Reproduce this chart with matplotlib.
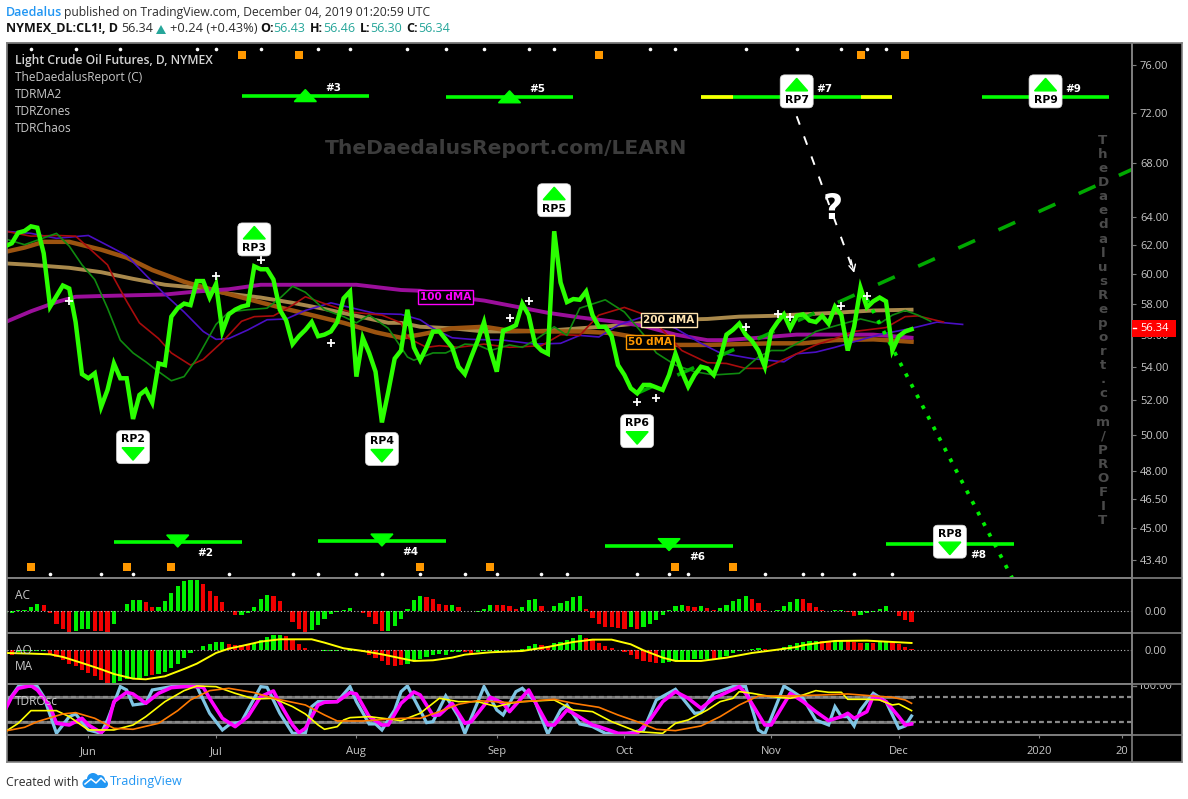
import matplotlib
matplotlib.use('Agg')
import matplotlib.pyplot as plt
from matplotlib.patches import FancyBboxPatch, Polygon, Rectangle, Circle
from matplotlib.lines import Line2D
from matplotlib.transforms import IdentityTransform, Bbox

W, H = 1188, 799

# x is the bar number, bar 0 is the first bar in the window
close = [61.9,62.1,62.85,62.97,63.3,63.2,61.4,57.8,58.5,59.2,59.0,56.8,53.55,53.3,53.6,51.6,52.6,54.2,53.3,53.3,
         50.9,52.3,52.6,51.85,54.2,54.1,57.15,57.7,58.0,57.9,59.5,59.5,58.4,59.3,56.2,57.3,57.6,57.8,57.9,60.5,
         60.3,60.3,59.6,57.6,56.9,55.4,55.9,56.3,56.8,55.9,56.0,56.2,56.8,58.35,58.8,53.4,55.8,54.85,53.7,50.7,
         52.5,54.5,55.0,57.6,55.2,54.4,55.2,56.2,56.2,55.7,55.2,54.0,53.55,54.6,55.6,56.8,55.0,53.7,56.25,56.4,
         56.6,58.0,57.25,55.4,55.0,54.8,62.95,59.4,58.1,58.3,58.25,58.8,57.25,56.5,56.5,55.9,54.1,53.5,52.7,52.4,
         52.9,52.9,52.75,52.6,53.5,54.8,53.7,52.8,53.5,54.0,53.9,53.5,54.5,56.0,56.3,56.7,56.0,55.6,55.0,54.0,
         56.2,56.8,57.3,56.4,57.2,57.3,56.9,56.8,57.2,56.7,57.8,57.25,55.0,56.5,59.05,57.75,58.15,58.4,58.15,55.0,
         55.9,56.2,56.34]

ma100_x = [0,4,8,11,15,20,25,30,35,40,50,55,60,62,65,70,75,80,85,90,95,100,105,110,113,118,124,130,136,142]
ma100_y = [56.8,57.5,58.1,58.45,58.5,58.55,58.6,58.8,58.95,59.25,59.25,59.25,59.0,58.9,58.85,58.45,58.2,57.8,57.4,
           57.1,56.85,56.55,56.0,55.65,55.65,55.8,56.0,56.0,56.0,55.8]
ma200_x = [0,4,10,15,20,25,30,35,40,45,50,55,60,62,65,70,75,80,85,90,95,100,105,110,115,120,125,130,136,142]
ma200_y = [60.7,60.6,60.4,60.1,59.65,59.25,59.05,58.65,58.4,58.05,57.65,57.2,56.75,56.75,56.5,56.4,56.2,56.2,56.25,
           56.4,56.55,56.75,56.95,57.0,57.15,57.2,57.3,57.4,57.55,57.6]
ma50_x = [0,3,6,10,15,19,23,28,33,38,43,48,53,58,62,65,70,75,79,85,90,95,100,105,110,115,120,125,130,136,142]
ma50_y = [61.5,61.8,62.2,62.2,61.65,61.1,60.25,59.45,58.85,58.3,57.75,57.25,56.75,56.15,55.8,56.0,56.4,56.5,56.25,
          56.2,56.2,56.1,55.75,55.35,55.35,55.4,55.45,55.45,55.65,55.7,55.55]

blue_x = [0,4,8,13,16,19,22,25,28,31,33,35,38,41,44,47,51,54,58,62,65,67,70,73,78,83,87,90,93,96,100,105,109,112,
          117,122,124,127,130,133,137,142,146,150]
blue_y = [62.95,62.8,62.45,62.65,61.95,61.25,59.9,58.6,57.45,56.2,55.7,55.75,56.3,56.95,57.0,57.55,58.05,57.75,57.35,
          57.3,56.95,56.4,55.8,55.7,55.65,55.4,55.45,55.95,55.85,56.6,57.15,56.4,55.45,54.85,54.5,54.3,54.8,54.9,
          55.2,55.55,56.0,56.4,56.8,56.65]
red_x = [0,4,8,11,13,16,17,19,21,24,26,29,31,34,37,39,42,45,47,50,54,59,62,63,66,68,71,75,79,84,87,90,93,97,101,106,
         110,113,116,119,122,124,127,130,133,138,141,143,147]
red_y = [62.95,62.6,62.65,62.6,61.8,60.6,59.7,58.15,56.75,55.75,54.85,54.1,54.45,55.55,56.85,57.15,57.2,57.9,58.45,
         58.0,57.45,57.25,56.75,55.8,55.2,55.3,55.2,55.4,55.2,55.3,56.0,55.95,57.25,57.75,57.15,55.0,54.25,54.2,53.9,
         53.9,54.45,54.8,55.35,55.75,56.2,56.45,57.15,57.2,56.8]
dgreen_x = [0,3,8,10,12,14,16,18,20,22,24,26,28,30,33,35,38,41,43,45,47,50,53,55,57,60,62,63,64,67,69,72,74,76,79,81,
            83,86,88,90,94,97,100,102,105,108,111,115,118,120,122,125,127,130,134,137,139,141,143,145]
dgreen_y = [62.4,62.0,62.8,61.9,60.6,59.6,57.7,55.65,54.85,54.3,53.7,53.15,53.4,54.5,56.65,57.45,57.6,57.7,58.35,59.15,
            58.75,57.6,57.15,56.75,57.25,56.4,55.2,54.6,54.4,54.85,54.85,55.4,55.35,55.0,55.35,55.2,55.65,56.5,55.95,
            57.7,58.25,57.45,56.0,54.85,54.1,53.7,53.5,53.6,54.6,55.0,55.0,55.65,56.2,56.55,57.0,56.7,57.25,57.55,57.25,
            56.85]

trend_x = [99, 176.5]
trend_y = [52.4, 67.5]
fall_x = [135, 157.8]
fall_y = [58.3, 42.5]
arrow_x = [124, 133]
arrow_y = [71.7, 60.05]

plus_x = [10,33,40,51,79,82,99,102,116,121,123,131,135]
plus_y = [58.15,59.85,60.95,55.5,57.05,58.15,51.9,52.1,56.5,57.35,57.15,57.85,58.5]

top_dots = [4,11,18,30,33,40,49,54,63,69,75,82,86,101,105,116,124,131,135,138]
top_squares = [37,46,93,134,141]
bottom_dots = [7,15,20,35,45,49,55,59,65,72,77,84,88,99,104,107,119,125,128,133,139]
bottom_squares = [4,19,26,65,76,105,114]

# name, bar, price, up or down
callouts = [('RP2',20,49.3,'down'),('RP3',39,62.37,'up'),('RP4',59,49.2,'down'),('RP5',86,65.2,'up'),
            ('RP6',99,50.2,'down'),('RP7',124,73.75,'up'),('RP8',148,44.3,'down'),('RP9',163,73.75,'up')]
# label, start, end, middle, price, up or down, has a small triangle
zones = [('#2',17,37,27,44.28,'down',True),('#3',37,57,47,73.4,'up',True),('#4',49,69,59,44.33,'down',True),
         ('#5',69,89,79,73.3,'up',True),('#6',94,114,104,44.1,'down',True),('#7',109,139,124,73.25,'up',False),
         ('#8',138,158,148,44.2,'down',False),('#9',153,173,163,73.25,'up',False)]
yellow_parts = [(109,114),(134,139)]

price_ticks = [76,72,68,64,62,60,58,56,54,52,50,48,46.5,45,43.4]
price_labels = ['76.00','72.00','68.00','64.00','62.00','60.00','58.00','56.00','54.00','52.00','50.00','48.00',
                '46.50','45.00','43.40']
time_ticks = [13,33,55,77,97,120,140,162,175]
time_labels = ['Jun','Jul','Aug','Sep','Oct','Nov','Dec','2020','20']

ac_vals = [-6,-6,2,2,10,20,17,-8,-40,-55,-65,-60,-55,-55,-60,-62,-65,-40,-2,20,32,32,25,12,12,30,52,75,88,92,92,80,58,
           45,26,0,-12,-12,-8,10,35,47,43,30,0,-33,-55,-65,-58,-42,-25,-10,-5,2,8,0,-8,-20,-40,-62,-60,-45,
           -25,6,32,45,42,36,21,18,18,12,0,-2,-3,5,18,18,18,15,5,12,33,36,15,0,15,24,30,42,45,5,-22,-40,-50,-50,-52,
           -55,-48,-55,-50,-40,-28,-12,2,15,18,15,12,15,9,2,8,18,30,36,45,36,24,2,-1,2,15,
           25,36,36,24,12,2,0,1,1,-5,-15,-13,-6,-3,5,14,0,-15,-28,-35]
ac_red = [6,7,8,9,10,14,15,16,22,23,31,32,33,34,36,42,43,45,46,47,56,57,58,59,66,67,68,69,71,73,77,78,79,80,84,
          91,92,93,94,95,96,97,99,107,108,110,111,117,118,119,120,125,126,127,128,132,133,140,141,142]

ao_vals = [-6,-15,-4,-3,-3,-3,-3,-13,-20,-30,-42,-48,-58,-67,-78,-90,-100,-100,-93,-85,-85,-82,-77,-75,-72,-65,-52,-40,
           -22,-8,2,12,20,26,25,18,16,16,16,22,30,40,46,47,42,32,20,8,2,0,-1,-1,-1,0,-1,-1,-4,-13,-22,-32,-43,-47,
           -45,-40,-32,-25,-20,-15,-12,-13,-5,-5,-5,-13,-5,-3,-3,-1,1,1,2,5,13,18,16,14,22,25,32,38,46,38,30,22,14,8,0,
           -6,-15,-27,-33,-36,-38,-38,-35,-30,-30,-28,-26,-26,-26,-25,-22,-18,-8,-2,2,4,7,4,2,3,10,
           15,22,26,28,28,28,27,28,30,27,24,21,21,22,24,27,24,18,11,3]
ao_red = [0,1,7,8,9,10,11,12,13,14,15,16,23,35,36,37,38,44,45,46,47,48,56,57,58,59,60,61,62,72,73,80,84,85,91,92,93,94,
          95,97,98,99,100,101,102,111,119,120,128,129,132,133,134,136,139,140,141,142]
ao_ma_x = [0,4,7,9,12,15,17,20,22,25,28,30,33,35,37,40,43,48,50,53,56,59,62,64,67,70,72,76,81,85,89,92,95,98,100,103,105,
           109,113,117,121,124,125,128,130,135,138,141,142]
ao_ma_y = [-8,-10,-12,-20,-38,-57,-71,-85,-87,-78,-56,-40,-8,5,13,26,33,33,23,6,-2,-12,-24,-32,-30,-22,-13,-6,-2,10,25,32,
           32,18,0,-22,-32,-32,-22,-8,2,10,15,24,28,29,26,23,22]

osc_levels = [114, 39]
sky_x = [0,2,3,5,6,8,10,11,13,15,16,18,19,20,22,23,26,30,32,34,35,37,40,41,43,45,47,48,49,52,54,55,57,58,59,61,62,63,64,
         66,67,69,71,72,75,77,78,80,81,83,85,87,88,90,92,94,97,100,102,105,108,109,111,114,116,118,119,122,123,125,127,
         129,130,131,132,133,134,136,138,140,141,142]
sky_y = [91,146,148,146,116,6,56,64,16,6,46,146,136,91,96,136,146,146,66,16,31,41,146,144,66,6,6,86,101,101,146,101,34,34,
         16,76,131,148,111,38,41,118,56,6,146,76,61,131,141,101,4,76,91,34,26,6,4,16,106,138,66,68,126,146,146,16,4,148,
         136,111,46,31,86,56,56,28,76,126,101,21,28,58]
pink_x = [0,1,2,4,5,7,8,10,12,13,15,16,17,19,20,22,24,26,29,31,32,34,36,38,40,42,43,45,46,47,49,50,52,54,55,57,59,60,62,
          64,65,67,68,70,72,73,76,78,79,82,84,85,86,88,89,92,93,96,99,101,103,105,107,109,111,115,116,119,120,123,125,
          127,129,131,132,133,135,136,138,140,141,142]
pink_y = [78,116,141,149,136,86,36,31,51,31,8,26,101,129,124,96,126,143,148,144,111,51,26,56,116,133,96,31,8,21,91,99,101,
          128,124,56,31,31,96,130,121,60,61,96,36,41,114,96,71,136,66,31,31,76,66,31,26,6,6,46,101,131,111,81,111,146,126,
          31,31,126,101,71,44,56,66,51,71,118,101,56,31,34]
gold_x = [0,2,4,8,10,13,17,20,22,25,28,30,33,36,39,42,45,47,49,50,52,53,54,57,60,62,65,67,68,71,74,77,79,81,84,86,89,92,95,
          97,99,103,105,107,110,112,114,115,117,120,123,125,127,129,131,132,135,137,139,140,142]
gold_y = [11,36,74,74,56,16,16,31,56,101,134,148,146,126,109,111,86,64,31,18,26,46,53,56,49,44,66,96,111,101,101,86,96,101,
          104,106,76,71,41,26,11,6,36,46,76,101,111,131,126,116,111,121,134,129,129,108,108,106,91,94,74]
orange_x = [0,3,5,9,11,14,17,20,24,27,29,32,35,39,42,47,50,52,56,62,65,68,71,74,79,86,89,93,96,99,102,105,109,112,115,118,
            123,128,132,136,139,141,142]
orange_y = [13,24,41,64,68,51,21,18,36,74,106,134,141,128,111,91,61,43,43,51,51,71,93,104,98,108,96,84,61,41,18,14,28,56,
            91,118,118,121,124,118,114,106,96]

BAR_GREEN = '#00f000'
BAR_RED = '#f00000'
GRID = '#808080'
TXT = '#c8c8c8'
TV_BLUE = '#2196f3'
TEAL = '#26a69a'
LIME = '#2bff00'
ZONE = '#00ff00'

fig = plt.figure(figsize=(W / 100, H / 100), dpi=100, facecolor='white')


def pane(left, top, right, bottom):
    ax = fig.add_axes([left / W, 1 - bottom / H, (right - left) / W, (bottom - top) / H], facecolor='black')
    for s in ax.spines.values():
        s.set_color(GRID)
        s.set_linewidth(1.2)
    ax.set_xlim(0.2, 176.5)
    return ax


def ftext(x, y, s, **kw):
    kw.setdefault('va', 'center')
    kw.setdefault('family', 'Open Sans')
    return fig.text(x / W, 1 - y / H, s, **kw)


back = pane(6.7, 43, 1181.7, 762)
back.set_xticks([])
back.set_yticks([])

ax = pane(6.7, 43, 1131.7, 578.3)
ax_ac = pane(6.7, 578.3, 1131.7, 633.3)
ax_ao = pane(6.7, 633.3, 1131.7, 684.3)
ax_osc = pane(6.7, 684.3, 1131.7, 735.3)

# main pane
ax.set_yscale('log')
ax.set_ylim(42.5, 77.9)
ax.plot(ma200_x, ma200_y, color='#a9894c', lw=2.8)
ax.plot(ma50_x, ma50_y, color='#9c5410', lw=3.2)
ax.plot(ma100_x, ma100_y, color='#9b0f9b', lw=2.8)
ax.plot(blue_x, blue_y, color='#4a0fc4', lw=1.2)
ax.plot(red_x, red_y, color='#a80c0c', lw=1.2)
ax.plot(dgreen_x, dgreen_y, color='#0f8a0f', lw=1.2)
ax.plot(trend_x, trend_y, color='#00a800', lw=2.6, linestyle=(0, (5.1, 7.1)))
ax.plot(fall_x, fall_y, color='#00ee00', lw=2.7, linestyle=(0, (1, 2.2)))
ax.plot(range(len(close)), close, color=LIME, lw=3.2, solid_joinstyle='miter', zorder=4)
ax.plot(plus_x, plus_y, '+', color='white', ms=5.2, mew=1.3, zorder=5)

ax.plot(arrow_x, arrow_y, color='white', lw=1.4, linestyle=(0, (4.6, 6.4)), zorder=5)
ax.annotate('', xy=(arrow_x[1], arrow_y[1]), xytext=(arrow_x[1] - 0.5, arrow_y[1] + 0.9),
            arrowprops=dict(arrowstyle='->', color='white', lw=1.0, mutation_scale=12, shrinkA=0, shrinkB=0), zorder=5)
ax.text(129.7, 64.56, '?', color='white', fontsize=25, fontweight='bold', ha='center', va='center', zorder=5)

ax.plot(top_dots, [77.36] * len(top_dots), 'o', color='white', ms=2.6, mew=0)
ax.plot(top_squares, [76.87] * len(top_squares), 's', color='#ff9800', ms=6.2, mew=0)
ax.plot(bottom_dots, [42.73] * len(bottom_dots), 'o', color='white', ms=2.6, mew=0)
ax.plot(bottom_squares, [43.05] * len(bottom_squares), 's', color='#ff9800', ms=6.2, mew=0)

ax.set_yticks(price_ticks, price_labels)
ax.minorticks_off()
ax.set_xticks([])
ax.tick_params(axis='y', left=False, labelleft=False, right=True, labelright=True, color=GRID, length=3,
               labelcolor=TXT, labelsize=8, pad=3)
for lab in ax.get_yticklabels():
    lab.set_family('Open Sans')

fig.canvas.draw()
ident = IdentityTransform()


def px(n, p):
    return ax.transData.transform((n, p))


def tri(cx, cy_top, w, h, up, color=ZONE, z=7):
    if up:
        pts = [(cx - w / 2, cy_top), (cx + w / 2, cy_top), (cx, cy_top + h)]
    else:
        pts = [(cx - w / 2, cy_top + h), (cx + w / 2, cy_top + h), (cx, cy_top)]
    ax.add_patch(Polygon(pts, closed=True, color=color, transform=ident, zorder=z, clip_on=False))


# resistance / support zones
for label, a, b, mid, price, way, small in zones:
    ax.plot([a, b], [price, price], color=ZONE, lw=2.6, solid_capstyle='butt', zorder=6)
    cx, cy = px(mid, price)
    if small:
        if way == 'up':
            tri(cx, cy - 6, 22, 12, True)
        else:
            tri(cx, cy - 5, 22, 12, False)
    off = 8 if way == 'up' else -11
    ax.text(cx + 28, cy + off, label, color='white', fontsize=7.5, fontweight='bold', ha='center', va='center',
            transform=ident, zorder=8)
for a, b in yellow_parts:
    ax.plot([a, b], [73.25, 73.25], color='#ffff00', lw=2.6, solid_capstyle='butt', zorder=6.5)

# RP callouts
for name, bar, price, way in callouts:
    cx, cy = px(bar, price)
    ax.add_patch(FancyBboxPatch((cx - 13, cy - 13), 26, 26, boxstyle='round,pad=3.5,rounding_size=4.5', fc='white',
                                ec='#d8d8d8', lw=0.5, transform=ident, zorder=9))
    if way == 'up':
        tri(cx, cy + 0.5, 22, 12.5, True, z=10)
        ax.text(cx, cy - 8.5, name, color='black', fontsize=7.8, fontweight='bold', ha='center', va='center',
                transform=ident, zorder=10)
    else:
        tri(cx, cy - 13, 22, 12.5, False, z=10)
        ax.text(cx, cy + 8, name, color='black', fontsize=7.8, fontweight='bold', ha='center', va='center',
                transform=ident, zorder=10)

# labels on the moving averages
for txt, bar, price, col in [('100 dMA', 69, 58.44, '#ff00ff'), ('200 dMA', 104, 56.94, '#ffe4b0'),
                             ('50 dMA', 101, 55.54, '#ff9800')]:
    ax.text(bar, price, txt, color=col, fontsize=7.5, fontweight='bold', ha='center', va='center', zorder=7,
            bbox=dict(boxstyle='square,pad=0.2', fc='black', ec=col, lw=1))

# AC
ac_cols = [BAR_RED if i in ac_red else BAR_GREEN for i in range(len(ac_vals))]
ax_ac.bar(range(len(ac_vals)), ac_vals, width=0.66, color=ac_cols)
ax_ac.axhline(0, color='#c0c0c0', lw=0.8, linestyle=(0, (1, 2)), zorder=3)
ax_ac.set_ylim(-68, 97)
ax_ac.set_xticks([])
ax_ac.set_yticks([0], ['0.00'])

# AO
ao_cols = [BAR_RED if i in ao_red else BAR_GREEN for i in range(len(ao_vals))]
ax_ao.bar(range(len(ao_vals)), ao_vals, width=0.66, color=ao_cols)
ax_ao.axhline(0, color='#c0c0c0', lw=0.8, linestyle=(0, (1, 2)), zorder=3)
ax_ao.plot(ao_ma_x, ao_ma_y, color='#ffff00', lw=1.4, zorder=4)
ax_ao.set_ylim(-102, 51)
ax_ao.set_xticks([])
ax_ao.set_yticks([0], ['0.00'])

for a in (ax_ac, ax_ao):
    a.tick_params(axis='y', left=False, labelleft=False, right=False, labelright=True, labelcolor=TXT, labelsize=8,
                  pad=6)
    for lab in a.get_yticklabels():
        lab.set_family('Open Sans')

# oscillator
ax_osc.set_ylim(0, 153)
for lev in osc_levels:
    ax_osc.plot([0.2, 142], [lev, lev], color='#707070', lw=2.2, zorder=1)
    ax_osc.plot([0.2, 176.5], [lev, lev], color='#8a8a8a', lw=1.6, linestyle=(0, (2.2, 1.4)), zorder=1.5)
ax_osc.plot(sky_x, sky_y, color='#7ec4e4', lw=2.3, zorder=2, solid_joinstyle='miter')
ax_osc.plot(pink_x, pink_y, color='#ff00ff', lw=2.6, zorder=3)
ax_osc.plot(gold_x, gold_y, color='#ffff00', lw=1.2, zorder=4)
ax_osc.plot(orange_x, orange_y, color='#ff7a00', lw=1.2, zorder=5)
ax_osc.set_yticks([])
ax_osc.set_xticks(time_ticks, time_labels)
ax_osc.tick_params(axis='x', color=GRID, length=2.5, labelcolor=TXT, labelsize=8, pad=5)
for lab in ax_osc.get_xticklabels():
    lab.set_family('Open Sans')

# separators and the right hand side
for y in (578.3, 633.3, 684.3, 735.3):
    fig.add_artist(Line2D([6.7 / W, 1181.7 / W], [1 - y / H, 1 - y / H], color=GRID, lw=1.2))
fig.add_artist(Line2D([1131.7 / W, 1131.7 / W], [1 - 43 / H, 1 - 762 / H], color=GRID, lw=1.2))

t100 = ftext(1154, 686.7, '100.00', color=TXT, fontsize=8, ha='center')
t100.set_clip_box(Bbox([[1133, H - 735], [1181, H - 685]]))
t100.set_clip_on(True)
fig.add_artist(Line2D([1131.7 / W, 1135.7 / W], [1 - 686 / H, 1 - 686 / H], color=GRID, lw=1))

# last price box
fig.add_artist(Rectangle((1132.3 / W, 1 - 336.7 / H), 43.7 / W, 16.7 / H, transform=fig.transFigure, fc='#ff0000',
                         ec='none', zorder=5))
fig.add_artist(Line2D([1132.5 / W, 1136 / W], [1 - 328.5 / H, 1 - 328.5 / H], color='white', lw=1, zorder=6))
ftext(1154.5, 328.5, '56.34', color='white', fontsize=8, ha='center', zorder=6)

# legend in the panes
ftext(15, 60.5, 'Light Crude Oil Futures, D, NYMEX', color='#d4d4d4', fontsize=8.7, fontweight='semibold')
for y, s in [(77.3, 'TheDaedalusReport (C)'), (94.7, 'TDRMA2'), (111.7, 'TDRZones'), (128.3, 'TDRChaos')]:
    ftext(15, y, s, color=TXT, fontsize=8.6)
ftext(15, 595.5, 'AC', color=TXT, fontsize=8.6)
ftext(15, 650, 'AO', color=TXT, fontsize=8.6, zorder=0.5)
ftext(15, 667, 'MA', color=TXT, fontsize=8.6)
ftext(15, 701.5, 'TDROsc', color=TXT, fontsize=8.6)

# watermarks
ftext(506, 148, 'TheDaedalusReport.com/LEARN', color='#3c3c3c', fontsize=14.6, fontweight='bold', ha='center',
      family='DejaVu Sans')
ftext(1103, 134, '\n'.join('TheDaedalusReport.com/PROFIT'), color='#4a4a4a', fontsize=9.6, fontweight='bold',
      ha='center', va='top', ma='center', linespacing=1.108, family='DejaVu Sans')

# header
dark = '#2e2e2e'
ftext(6, 12.5, 'Daedalus', color=TV_BLUE, fontsize=9, fontweight='semibold')
ftext(64, 12.5, 'published on TradingView.com, December 04, 2019 01:20:59 UTC', color=dark, fontsize=8.74)
ftext(6, 29, 'NYMEX_DL:CL1!, D', color='#111111', fontsize=9, fontweight='bold')
ftext(121, 29, '56.34', color=dark, fontsize=9)
fig.add_artist(Polygon([(156 / W, 1 - 34 / H), (166 / W, 1 - 34 / H), (161 / W, 1 - 25 / H)], closed=True, fc=TEAL,
                       ec='none', transform=fig.transFigure))
ftext(170, 29, '+0.24 (+0.43%)', color=dark, fontsize=9.3)
for x1, lab, x2, val in [(260, 'O:', 273, '56.43'), (310, 'H:', 323, '56.46'), (360, 'L:', 370, '56.30'),
                         (406, 'C:', 418, '56.34')]:
    ftext(x1, 29, lab, color='#111111', fontsize=9, fontweight='bold')
    ftext(x2, 29, val, color=TEAL, fontsize=9)

# footer
ftext(6, 782, 'Created with', color=dark, fontsize=8.8)
for cx, cy, r in [(87, 783.5, 4.5), (93, 779, 6), (100, 780, 5), (104, 784, 4)]:
    fig.add_artist(Circle((cx, H - cy), r, fc=TV_BLUE, ec='none', transform=ident))
fig.add_artist(Rectangle((86, H - 788), 19, 6, fc=TV_BLUE, ec='none', transform=ident))
fig.add_artist(Line2D([85, 91, 96, 101, 105], [H - 784, H - 779, H - 783, H - 778, H - 782], color='white', lw=1.1,
                      transform=ident))
ftext(110, 782, 'TradingView', color=TV_BLUE, fontsize=9.1)

fig.savefig('out.png', dpi=100, facecolor='white')
